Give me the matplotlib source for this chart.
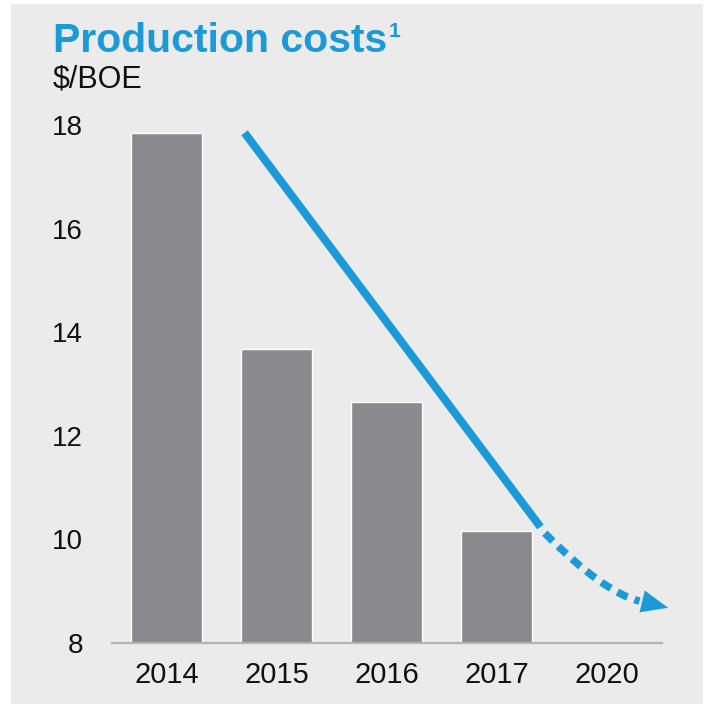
import matplotlib
matplotlib.use("Agg")
import matplotlib.pyplot as plt
from matplotlib.patches import Rectangle, PathPatch
from matplotlib.path import Path

plt.rcParams['font.family'] = ['Liberation Sans', 'DejaVu Sans']

years = ['2014', '2015', '2016', '2017', '2020']
costs = [17.85, 13.68, 12.65, 10.17]          # $/BOE, no bar for 2020
y_ticks = [8, 10, 12, 14, 16, 18]

# trend arrow: solid part, then dotted curve (start, control, tip)
trend_x = [0.71, 3.40]
trend_y = [17.85, 10.24]
curve_x = [3.44, 3.97, 4.56]
curve_y = [10.12, 8.98, 8.68]

BLUE = '#1b9ad7'
BAR = '#8a8a8e'
BG = '#ebebeb'

fig = plt.figure(figsize=(7.04, 7.04), dpi=100, facecolor='white')
fig.patches.append(Rectangle((11 / 704, 0), 692 / 704, 700 / 704,
                             transform=fig.transFigure, facecolor=BG,
                             edgecolor='none', zorder=-10))

ax = fig.add_axes([112 / 704, 61 / 704, 550 / 704, 518 / 704])
ax.set_facecolor(BG)
ax.patch.set_alpha(0)

x = list(range(len(years)))
ax.bar(x[:len(costs)], [c - 8 for c in costs], bottom=8, width=0.645,
       color=BAR, edgecolor='white', linewidth=1.0, zorder=2)

ax.set_xlim(-0.495, 4.505)
ax.set_ylim(8, 18)
ax.set_xticks(x)
ax.set_xticklabels(years, fontsize=21, color='#111111')
ax.set_yticks(y_ticks)
ax.set_yticklabels([str(t) for t in y_ticks], fontsize=20, color='#111111')
ax.tick_params(axis='x', length=0, pad=13)
ax.tick_params(axis='y', length=0, pad=21)
for s in ['left', 'right', 'top']:
    ax.spines[s].set_visible(False)
ax.spines['bottom'].set_color('#b4b4b4')
ax.spines['bottom'].set_linewidth(1.6)
ax.spines['bottom'].set_zorder(3)

# solid trend line
ax.plot(trend_x, trend_y, color=BLUE, lw=5.8, solid_capstyle='butt',
        zorder=4, clip_on=False)

# dotted continuation
verts = list(zip(curve_x, curve_y))
verts[-1] = (curve_x[-1] - 0.26, curve_y[-1] + 0.13)
path = Path(verts, [Path.MOVETO, Path.CURVE3, Path.CURVE3])
ax.add_patch(PathPatch(path, facecolor='none', edgecolor=BLUE, lw=5.4,
                       linestyle=(0, (1.5, 1.0)), capstyle='butt',
                       zorder=4, clip_on=False))
ax.annotate('', xy=(curve_x[-1], curve_y[-1]),
            xytext=(curve_x[-1] - 0.27, curve_y[-1] + 0.14),
            arrowprops=dict(arrowstyle='-|>,head_length=1.9,head_width=0.8',
                            color=BLUE, lw=0.1, shrinkA=0, shrinkB=0),
            annotation_clip=False, zorder=5)

# headings
title = fig.text(53 / 704, 1 - 52 / 704, 'Production costs', fontsize=29.5,
                 fontweight='bold', color=BLUE, va='baseline', ha='left')
fig.canvas.draw()
bb = title.get_window_extent()
fig.text(bb.x1 / 704 + 0.002, 1 - 37 / 704, '1', fontsize=15,
         fontweight='bold', color=BLUE, va='baseline', ha='left')
fig.text(53 / 704, 1 - 87 / 704, '$/BOE', fontsize=22, color='#111111',
         va='baseline', ha='left')

fig.savefig('out.png', dpi=100, facecolor=fig.get_facecolor())
